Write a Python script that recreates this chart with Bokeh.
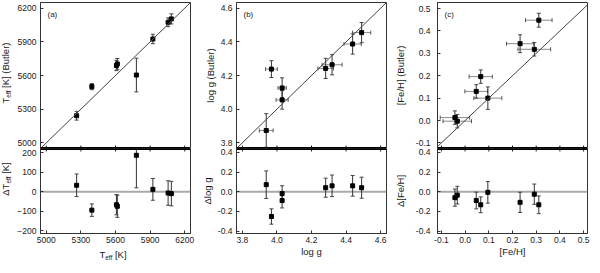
import math
from bokeh.plotting import figure
from bokeh.layouts import row, column
from bokeh.models import (ColumnDataSource, Range1d, FixedTicker, Whisker, TeeHead,
                          Slope, Span, Label, Div, NumeralTickFormatter)
from bokeh.embed import file_html
from bokeh.resources import INLINE

# ---------------- data ----------------
# panel (a): effective temperature
teff = [5263, 5395, 5608, 5616, 5781, 5924, 6056, 6084]
teff_butler = [5242, 5501, 5689, 5703, 5604, 5925, 6074, 6104]
teff_butler_err = [39, 27, 46, 48, 150, 42, 39, 45]
dteff = [33, -95, -67, -75, 187, 12, -7, -10]
dteff_err = [58, 32, 52, 57, 167, 56, 63, 63]

# panel (b): surface gravity
logg = [3.938, 3.968, 4.030, 4.030, 4.282, 4.319, 4.438, 4.490]
logg_err = [0.040, 0.034, 0.024, 0.035, 0.045, 0.058, 0.050, 0.053]
logg_butler = [3.873, 4.238, 4.126, 4.055, 4.242, 4.264, 4.387, 4.455]
logg_butler_err = [0.10, 0.05, 0.06, 0.055, 0.06, 0.06, 0.06, 0.06]
dlogg = [0.072, -0.252, -0.019, -0.090, 0.041, 0.060, 0.060, 0.041]
dlogg_err = [0.14, 0.078, 0.080, 0.075, 0.097, 0.110, 0.105, 0.107]

# panel (c): metallicity
feh = [-0.043, -0.033, 0.047, 0.066, 0.096, 0.232, 0.292, 0.311]
feh_err = [0.062, 0.060, 0.048, 0.049, 0.059, 0.057, 0.069, 0.056]
feh_butler = [0.013, -0.003, 0.130, 0.196, 0.100, 0.343, 0.318, 0.448]
feh_butler_err = [0.030, 0.030, 0.030, 0.030, 0.050, 0.040, 0.030, 0.031]
dfeh = [-0.060, -0.035, -0.089, -0.133, -0.006, -0.108, -0.025, -0.133]
dfeh_err = [0.088, 0.090, 0.085, 0.080, 0.110, 0.103, 0.103, 0.090]

# tick values
ticks_teff = [5000, 5300, 5600, 5900, 6200]
ticks_dteff = [-200, -100, 0, 100, 200]
ticks_logg = [3.8, 4.0, 4.2, 4.4, 4.6]
ticks_dlogg = [-0.4, -0.2, 0.0, 0.2, 0.4]
ticks_feh = [-0.1, 0.0, 0.1, 0.2, 0.3, 0.4, 0.5]
ticks_dfeh = [-0.4, -0.2, 0.0, 0.2, 0.4]

# ---------------- style ----------------
FONT = "Liberation Sans"
TICK_FS = "8.5px"
LAB = 9.5
SUB = 6.5
TXT = "#1a1a1a"
FRAME_W = 150
TOP_H = 146
BOT_H = 85
BOT_B = 24


def style_axis(ax, ticks, fmt=None, standoff=4, label_standoff=2):
    ax.ticker = FixedTicker(ticks=ticks)
    if fmt:
        ax.formatter = NumeralTickFormatter(format=fmt)
    ax.major_tick_in = 3
    ax.major_tick_out = 0
    ax.major_tick_line_color = "#333333"
    ax.minor_tick_line_color = None
    ax.axis_line_color = "#333333"
    ax.axis_line_width = 1
    ax.major_label_text_font = FONT
    ax.major_label_text_font_size = TICK_FS
    ax.major_label_standoff = standoff
    ax.major_label_text_color = TXT
    ax.axis_label_text_font = FONT
    ax.axis_label_text_font_size = f"{LAB}px"
    ax.axis_label_text_font_style = "normal"
    ax.axis_label_standoff = label_standoff
    ax.axis_label_text_color = TXT


def base_fig(xr, yr, fh, bl, br, bt, bb):
    p = figure(frame_width=FRAME_W, frame_height=fh,
               x_range=Range1d(*xr), y_range=Range1d(*yr),
               output_backend="svg", toolbar_location=None,
               min_border_left=bl, min_border_right=br,
               min_border_top=bt, min_border_bottom=bb)
    p.grid.visible = False
    p.outline_line_color = "#333333"
    p.outline_line_width = 1
    p.background_fill_color = "white"
    p.border_fill_color = "white"
    return p


def edge_ticks(p, xt, yloc):
    # short tick marks crossing the thick separator line (clipped to the frame)
    p.scatter(x=xt, y=[yloc] * len(xt), marker="dash", angle=math.pi / 2, size=6,
              line_color="#222222", line_width=1)
    p.add_layout(Span(location=yloc, dimension="width", line_color="black", line_width=3))


def build(x, xerr, y, yerr, d, derr, xr, yr_top, yr_bot, xt, yt_top, yt_bot,
          xfmt, yfmt_top, yfmt_bot, tag, ylab_top, ylab_bot, xlab,
          bl, br, ystand, ylstand, bot_border):
    # ---- top panel ----
    t = base_fig(xr, yr_top, TOP_H, bl, br, 2, 0)
    t.xaxis.visible = False
    style_axis(t.yaxis[0], yt_top, yfmt_top, standoff=ystand, label_standoff=ylstand)
    if ylab_top:
        t.yaxis[0].axis_label = ylab_top
    t.add_layout(Slope(gradient=1, y_intercept=0, line_color="#444444", line_width=1))
    edge_ticks(t, xt, yr_top[0])
    src = ColumnDataSource(dict(
        x=x, y=y,
        ylo=[a - e for a, e in zip(y, yerr)], yhi=[a + e for a, e in zip(y, yerr)]))
    if xerr is not None:
        src.data["xlo"] = [a - e for a, e in zip(x, xerr)]
        src.data["xhi"] = [a + e for a, e in zip(x, xerr)]
        t.add_layout(Whisker(source=src, base="y", lower="xlo", upper="xhi", dimension="width",
                             line_color="#8a8a8a", line_width=1,
                             lower_head=TeeHead(size=4, line_color="#555555", line_width=1),
                             upper_head=TeeHead(size=4, line_color="#555555", line_width=1)))
    t.add_layout(Whisker(source=src, base="x", lower="ylo", upper="yhi", dimension="height",
                         line_color="#333333", line_width=1,
                         lower_head=TeeHead(size=4, line_color="#444444", line_width=1),
                         upper_head=TeeHead(size=4, line_color="#444444", line_width=1)))
    t.scatter("x", "y", source=src, marker="square", size=4, color="black")
    t.add_layout(Label(x=xr[0], y=yr_top[1], x_offset=7, y_offset=-12, text=tag,
                       text_font=FONT, text_font_size="8px", text_color=TXT,
                       text_align="left", text_baseline="middle"))

    # ---- bottom panel ----
    b = base_fig(xr, yr_bot, BOT_H, bl, br, 0, bot_border)
    style_axis(b.xaxis[0], xt, xfmt, standoff=3, label_standoff=0)
    if xlab:
        b.xaxis[0].axis_label = xlab
    style_axis(b.yaxis[0], yt_bot, yfmt_bot, standoff=ystand, label_standoff=ylstand)
    if ylab_bot:
        b.yaxis[0].axis_label = ylab_bot
    b.add_layout(Span(location=0, dimension="width", line_color="#aaaaaa", line_width=2,
                      level="underlay"))
    edge_ticks(b, xt, yr_bot[1])
    src2 = ColumnDataSource(dict(
        x=x, d=d,
        dlo=[a - e for a, e in zip(d, derr)], dhi=[a + e for a, e in zip(d, derr)]))
    b.add_layout(Whisker(source=src2, base="x", lower="dlo", upper="dhi", dimension="height",
                         line_color="#333333", line_width=1,
                         lower_head=TeeHead(size=4, line_color="#444444", line_width=1),
                         upper_head=TeeHead(size=4, line_color="#444444", line_width=1)))
    b.scatter("x", "d", source=src2, marker="square", size=4, color="black")
    return t, b


LAB_W = 14       # width of the html column holding the rotated (a) labels
A_LEFT = 24      # left border of the (a) figures after that column
A_XAX = 13       # bottom border of (a) residual figure (tick labels only)

ta, ba = build(teff, None, teff_butler, teff_butler_err, dteff, dteff_err,
               (4950, 6250), (4950, 6250), (-215, 222),
               ticks_teff, ticks_teff, ticks_dteff, None, None, None,
               "(a)", None, None, None, A_LEFT, 5, 4, 2, A_XAX)
tb, bb = build(logg, logg_err, logg_butler, logg_butler_err, dlogg, dlogg_err,
               (3.766, 4.634), (3.766, 4.634), (-0.425, 0.44),
               ticks_logg, ticks_logg, ticks_dlogg, "0.0", "0.0", "0.0",
               "(b)", "log g (Butler)", "\u0394log g", "log g", 41, 5, 4, 2, BOT_B)
tc, bc = build(feh, feh_err, feh_butler, feh_butler_err, dfeh, dfeh_err,
               (-0.1165, 0.5165), (-0.125, 0.527), (-0.425, 0.44),
               ticks_feh, ticks_feh, ticks_dfeh, "0.0", "0.0", "0.0",
               "(c)", "[Fe/H] (Butler)", "\u0394[Fe/H]", "[Fe/H]", 41, 4, 7, 7, BOT_B)

# ---- labels with subscripts for panel (a), as real html text ----
TEXT_CSS = (f"font-family:{FONT},Arial,sans-serif;font-size:{LAB}px;color:{TXT};"
            "white-space:nowrap;line-height:12px;")
SUB_CSS = f"font-size:{SUB}px;vertical-align:-2px;"
TOP_FULL = 2 + TOP_H
BOT_FULL = BOT_H + BOT_B


def vspan(html, cy):
    # horizontal text centred on (LAB_W/2, cy), then turned to read bottom-to-top
    return (f'<span style="position:absolute;left:{LAB_W / 2}px;top:{cy}px;{TEXT_CSS}'
            f'transform:translate(-50%,-50%) rotate(-90deg);">{html}</span>')


left_html = (f'<div style="position:relative;width:{LAB_W}px;height:{TOP_FULL + BOT_FULL}px;'
             f'margin:0;padding:0;">'
             + vspan(f'T<sub style="{SUB_CSS}">eff</sub> [K] (Butler)', 2 + TOP_H / 2 - 2)
             + vspan(f'\u0394T<sub style="{SUB_CSS}">eff</sub> [K]', TOP_FULL + BOT_H / 2 - 12)
             + '</div>')
div_left = Div(width=LAB_W, height=TOP_FULL + BOT_FULL, margin=0, text=left_html)

xl_w = A_LEFT + FRAME_W + 5
div_x = Div(width=xl_w, height=BOT_B - A_XAX, margin=0,
            text=(f'<div style="width:{xl_w}px;box-sizing:border-box;padding-left:{A_LEFT}px;'
                  f'padding-right:5px;text-align:center;{TEXT_CSS}line-height:11px;">'
                  f'T<sub style="{SUB_CSS}">eff</sub> [K]</div>'))

col_a = row(div_left, column(ta, ba, div_x))
layout = row(col_a, column(tb, bb), column(tc, bc))

open("out.html", "w").write(file_html(layout, INLINE))
